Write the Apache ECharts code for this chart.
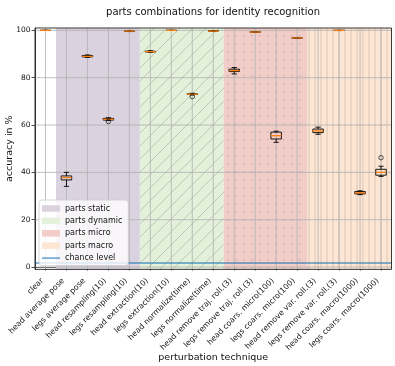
<!DOCTYPE html>
<html><head><meta charset="utf-8">
<script src="https://cdn.jsdelivr.net/npm/echarts@6/dist/echarts.min.js"></script>
<style>html,body{margin:0;padding:0;background:#fff}#c{width:395px;height:366px}</style>
</head><body><div id="c"></div>
<script>
const categories = ['clear','head average pose','legs average pose','head resampling(10)','legs resampling(10)',
  'head extraction(10)','legs extraction(10)','head normalize(time)','legs normalize(time)',
  'head remove traj. roll.(3)','legs remove traj. roll.(3)','head coars. micro(100)','legs coars. micro(100)',
  'head remove var. roll.(3)','legs remove var. roll.(3)','head coars. macro(1000)','legs coars. macro(1000)'];
const whiskerLow  = [100, 34.1, 88.6, 62.0, 99.5, 90.7, 100, 72.7, 99.6, 81.6, 99.1, 52.7, 96.6, 56.1, 99.9, 30.6, 38.3];
const q1          = [100, 36.8, 88.8, 62.1, 99.6, 90.9, 100, 72.9, 99.7, 82.6, 99.2, 54.1, 96.7, 56.8, 100, 30.9, 38.8];
const median      = [100, 37.8, 89.0, 62.4, 99.7, 91.0, 100, 73.0, 99.7, 83.0, 99.3, 55.5, 96.8, 57.5, 100, 31.4, 40.0];
const q3          = [100, 38.5, 89.4, 62.8, 99.7, 91.2, 100, 73.2, 99.8, 83.6, 99.4, 57.0, 96.9, 58.3, 100, 31.9, 41.3];
const whiskerHigh = [100, 40.0, 89.6, 63.1, 99.8, 91.4, 100, 73.4, 99.8, 84.3, 99.5, 57.4, 97.0, 59.1, 100, 32.2, 42.6];
const outliers = [[3, 61.5], [7, 72.0], [16, 46.2]];
const yTicks = [0, 20, 40, 60, 80, 100];
const chanceLevel = 1.6;
const regionNames = ['parts static', 'parts dynamic', 'parts micro', 'parts macro'];
const regionStart = [1, 5, 9, 13];
const regionEnd = [4, 8, 12, 16];
const regionColors = ['#dad3df', '#e4f1da', '#f2cdc8', '#fde6d4'];
const regionHatch = ['none', 'diag', 'dots', 'vlines'];

const FONT = 'DejaVu Sans';
const CHANCE_COLOR = 'rgba(31,119,180,0.55)';

function makePattern(bg, kind) {
  if (kind === 'none') return bg;
  const s = kind === 'diag' ? 13 : kind === 'dots' ? 8 : 6;
  const c = document.createElement('canvas');
  c.width = s; c.height = s;
  const g = c.getContext('2d');
  g.fillStyle = bg; g.fillRect(0, 0, s, s);
  if (kind === 'diag') {
    g.strokeStyle = 'rgba(120,125,115,0.4)'; g.lineWidth = 0.9;
    for (let k = -1; k <= 1; k++) { g.beginPath(); g.moveTo(k * s, s); g.lineTo(k * s + s, 0); g.stroke(); }
  } else if (kind === 'dots') {
    g.fillStyle = 'rgba(150,150,165,0.45)';
    g.fillRect(3, 3, 1.6, 1.6);
  } else {
    g.fillStyle = 'rgba(185,160,145,0.45)';
    g.fillRect(2.5, 0, 1, s);
  }
  return {image: c, repeat: 'repeat'};
}

const chart = echarts.init(document.getElementById('c'), null, {renderer: 'canvas'});

const regionSeries = regionNames.map((name, k) => ({
  name: name, type: 'custom', z: 1, silent: true,
  itemStyle: {color: regionColors[k]},
  data: [[regionStart[k], regionEnd[k]]],
  renderItem: (params, api) => {
    const bw = api.size([1, 0])[0];
    const x0 = api.coord([api.value(0), 0])[0] - bw / 2;
    const x1 = api.coord([api.value(1), 0])[0] + bw / 2;
    const cs = params.coordSys;
    return {type: 'rect', shape: {x: x0, y: cs.y, width: x1 - x0, height: cs.height},
      style: {fill: makePattern(regionColors[k], regionHatch[k])}};
  }
}));

const gridSeries = {
  type: 'custom', z: 2, silent: true, data: [[0]],
  renderItem: (params, api) => {
    const cs = params.coordSys;
    const children = [];
    categories.forEach((c, i) => {
      const x = api.coord([i, 0])[0];
      children.push({type: 'line', shape: {x1: x, y1: cs.y, x2: x, y2: cs.y + cs.height},
        style: {stroke: '#b0b0b0', lineWidth: 0.8}});
    });
    yTicks.forEach(v => {
      const y = api.coord([0, v])[1];
      children.push({type: 'line', shape: {x1: cs.x, y1: y, x2: cs.x + cs.width, y2: y},
        style: {stroke: '#b0b0b0', lineWidth: 0.8}});
    });
    return {type: 'group', children};
  }
};

const boxData = categories.map((c, i) => [i, whiskerLow[i], q1[i], median[i], q3[i], whiskerHigh[i]]);
const boxSeries = {
  type: 'custom', z: 4, silent: true, data: boxData,
  renderItem: (params, api) => {
    const i = api.value(0);
    const bw = api.size([1, 0])[0];
    const w = bw * 0.5, cap = bw * 0.25;
    const x = api.coord([i, 0])[0];
    const yLo = api.coord([i, api.value(1)])[1];
    const yQ1 = api.coord([i, api.value(2)])[1];
    const yMed = api.coord([i, api.value(3)])[1];
    const yQ3 = api.coord([i, api.value(4)])[1];
    const yHi = api.coord([i, api.value(5)])[1];
    const st = {stroke: '#000', lineWidth: 0.9};
    return {type: 'group', children: [
      {type: 'line', shape: {x1: x, y1: yQ1, x2: x, y2: yLo}, style: st},
      {type: 'line', shape: {x1: x, y1: yQ3, x2: x, y2: yHi}, style: st},
      {type: 'line', shape: {x1: x - cap / 2, y1: yLo, x2: x + cap / 2, y2: yLo}, style: st},
      {type: 'line', shape: {x1: x - cap / 2, y1: yHi, x2: x + cap / 2, y2: yHi}, style: st},
      {type: 'rect', shape: {x: x - w / 2, y: yQ3, width: w, height: yQ1 - yQ3}, style: {fill: 'none', stroke: '#000', lineWidth: 0.9}},
      {type: 'line', shape: {x1: x - w / 2, y1: yMed, x2: x + w / 2, y2: yMed}, style: {stroke: '#ff7f0e', lineWidth: 1.3}}
    ]};
  }
};

const frameSeries = {
  type: 'custom', z: 6, silent: true, data: [[0]],
  renderItem: (params, api) => {
    const cs = params.coordSys;
    return {type: 'rect', shape: {x: cs.x, y: cs.y, width: cs.width, height: cs.height},
      style: {fill: 'none', stroke: '#222', lineWidth: 0.9}};
  }
};

const option = {
  animation: false,
  backgroundColor: '#fff',
  textStyle: {fontFamily: FONT},
  title: {text: 'parts combinations for identity recognition', left: 208, top: 2, textAlign: 'center',
    textStyle: {fontFamily: FONT, fontSize: 10, fontWeight: 'normal', color: '#111'}},
  grid: {left: 35, right: 3.5, top: 28, bottom: 96.6, containLabel: false, outerBoundsMode: 'none'},
  legend: {
    orient: 'vertical', left: 39, top: 200, z: 10,
    padding: [4, 6, 3, 3], itemWidth: 18, itemHeight: 6.5, itemGap: 3.4,
    backgroundColor: 'rgba(255,255,255,0.8)', borderColor: '#cccccc', borderWidth: 0.8, borderRadius: 3,
    textStyle: {fontFamily: FONT, fontSize: 8, lineHeight: 9, color: '#111'},
    data: [
      {name: 'parts static', icon: 'rect', itemStyle: {color: regionColors[0]}},
      {name: 'parts dynamic', icon: 'rect', itemStyle: {color: regionColors[1]}},
      {name: 'parts micro', icon: 'rect', itemStyle: {color: regionColors[2]}},
      {name: 'parts macro', icon: 'rect', itemStyle: {color: regionColors[3]}},
      {name: 'chance level', icon: 'path://M0,0 L20,0 L20,2.2 L0,2.2 Z', itemStyle: {color: CHANCE_COLOR, borderWidth: 0}}
    ]
  },
  xAxis: {
    type: 'category', data: categories, boundaryGap: true,
    name: 'perturbation technique', nameLocation: 'middle', nameGap: 83, nameMoveOverlap: false,
    nameTextStyle: {fontFamily: FONT, fontSize: 9.5, color: '#111'},
    axisLine: {show: true, lineStyle: {color: '#222', width: 0.9}},
    axisTick: {show: true, alignWithLabel: true, length: 3.5, lineStyle: {color: '#222', width: 0.8}},
    axisLabel: {interval: 0, rotate: 45, fontFamily: FONT, fontSize: 7.8, color: '#111', margin: 7, padding: [0, 4.5, 0, 0]},
    splitLine: {show: false}
  },
  yAxis: {
    type: 'value', min: -1, max: 101,
    name: 'accuracy in %', nameLocation: 'middle', nameGap: 20, nameRotate: 90, nameMoveOverlap: false,
    nameTextStyle: {fontFamily: FONT, fontSize: 9.5, color: '#111'},
    axisLine: {show: true, lineStyle: {color: '#222', width: 0.9}},
    axisTick: {show: true, length: 3.5, customValues: yTicks, lineStyle: {color: '#222', width: 0.8}},
    axisLabel: {customValues: yTicks, fontFamily: FONT, fontSize: 7.5, color: '#111', margin: 4.5},
    splitLine: {show: false}
  },
  series: [
    ...regionSeries,
    gridSeries,
    {
      name: 'chance level', type: 'line', z: 3, data: [], symbol: 'none', showSymbol: false,
      color: CHANCE_COLOR,
      lineStyle: {color: CHANCE_COLOR, width: 2},
      markLine: {silent: true, symbol: 'none', label: {show: false},
        lineStyle: {color: CHANCE_COLOR, width: 2, type: 'solid'},
        data: [{yAxis: chanceLevel}]}
    },
    boxSeries,
    {type: 'scatter', z: 5, silent: true, data: outliers, symbol: 'circle', symbolSize: 4.5,
      itemStyle: {color: 'rgba(0,0,0,0)', borderColor: '#000', borderWidth: 0.8}},
    frameSeries
  ]
};
chart.setOption(option);
</script></body></html>
